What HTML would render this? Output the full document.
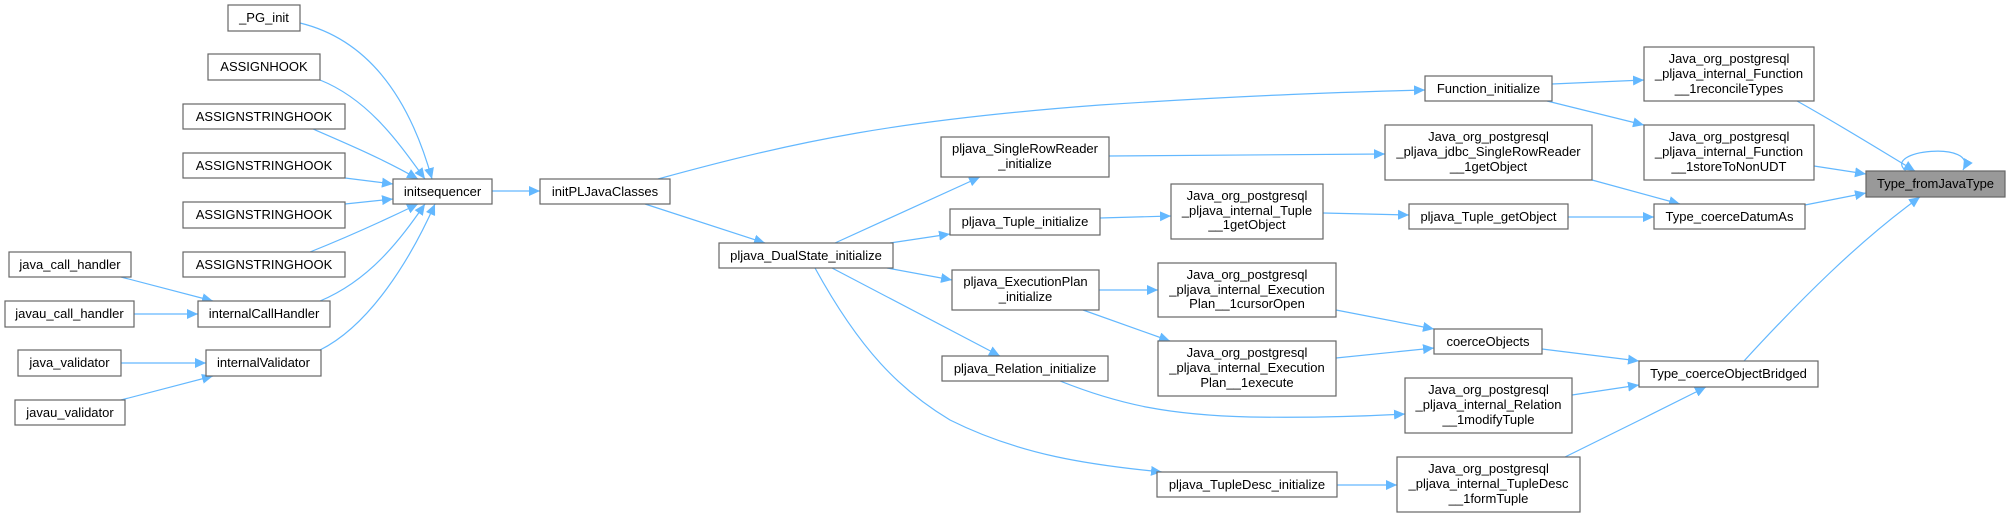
<!DOCTYPE html>
<html><head><meta charset="utf-8"><style>
html,body{margin:0;padding:0;background:#fff;}
svg{display:block;}
text{font-family:"Liberation Sans",Arial,sans-serif;font-size:13px;fill:#000;}
rect.n{fill:#fff;stroke:#666;stroke-width:1.2;}
path.e{fill:none;stroke:#63b8ff;stroke-width:1.2;}
</style></head><body>
<svg width="2011" height="517" viewBox="0 0 2011 517" xmlns="http://www.w3.org/2000/svg">
<defs>
<marker id="a" markerUnits="userSpaceOnUse" markerWidth="12" markerHeight="10" refX="11" refY="5" orient="auto">
<path d="M0,0 L11,5 L0,10 z" fill="#63b8ff"/>
</marker>
</defs>
<g>
<path class="e" marker-end="url(#a)" d="M300,23 C370,40 410,100 432,179"/>
<path class="e" marker-end="url(#a)" d="M320,80 C370,100 400,145 425,179"/>
<path class="e" marker-end="url(#a)" d="M313,129 C350,145 385,160 418,179"/>
<path class="e" marker-end="url(#a)" d="M345,178 L393,184"/>
<path class="e" marker-end="url(#a)" d="M345,204 L393,199"/>
<path class="e" marker-end="url(#a)" d="M310,252 C350,236 385,220 418,204"/>
<path class="e" marker-end="url(#a)" d="M320,301 C370,280 400,240 425,204"/>
<path class="e" marker-end="url(#a)" d="M320,350 C370,325 410,260 435,204"/>
<path class="e" marker-end="url(#a)" d="M121,277 L213,301"/>
<path class="e" marker-end="url(#a)" d="M134,314 L198,314"/>
<path class="e" marker-end="url(#a)" d="M121,363 L206,363"/>
<path class="e" marker-end="url(#a)" d="M121,400 L213,376"/>
<path class="e" marker-end="url(#a)" d="M492,191 L540,191"/>
<path class="e" marker-end="url(#a)" d="M658,179 C800,140 900,120 1100,105 C1250,95 1350,92 1425,90"/>
<path class="e" marker-end="url(#a)" d="M645,204 L765,243"/>
<path class="e" marker-end="url(#a)" d="M835,243 L980,177"/>
<path class="e" marker-end="url(#a)" d="M890,243 L950,234"/>
<path class="e" marker-end="url(#a)" d="M887,268 L952,280"/>
<path class="e" marker-end="url(#a)" d="M832,268 L1000,356"/>
<path class="e" marker-end="url(#a)" d="M815,268 C860,350 900,390 950,420 C1020,455 1090,465 1162,472"/>
<path class="e" marker-end="url(#a)" d="M1109,156 L1385,154"/>
<path class="e" marker-end="url(#a)" d="M1100,218 L1171,216"/>
<path class="e" marker-end="url(#a)" d="M1099,290 L1158,290"/>
<path class="e" marker-end="url(#a)" d="M1083,310 L1170,341"/>
<path class="e" marker-end="url(#a)" d="M1060,381 C1120,405 1170,415 1250,417 C1320,418 1370,416 1405,414"/>
<path class="e" marker-end="url(#a)" d="M1337,485 L1397,485"/>
<path class="e" marker-end="url(#a)" d="M1323,213 L1409,215"/>
<path class="e" marker-end="url(#a)" d="M1336,310 L1434,329"/>
<path class="e" marker-end="url(#a)" d="M1336,358 L1434,348"/>
<path class="e" marker-end="url(#a)" d="M1552,84 L1644,80"/>
<path class="e" marker-end="url(#a)" d="M1547,101 L1644,125"/>
<path class="e" marker-end="url(#a)" d="M1592,180 L1680,204"/>
<path class="e" marker-end="url(#a)" d="M1568,217 L1654,217"/>
<path class="e" marker-end="url(#a)" d="M1542,349 L1639,361"/>
<path class="e" marker-end="url(#a)" d="M1572,395 L1639,385"/>
<path class="e" marker-end="url(#a)" d="M1565,457 C1610,435 1660,410 1706,387"/>
<path class="e" marker-end="url(#a)" d="M1797,101 C1840,125 1880,150 1915,171"/>
<path class="e" marker-end="url(#a)" d="M1814,166 L1866,174"/>
<path class="e" marker-end="url(#a)" d="M1805,205 L1866,193"/>
<path class="e" marker-end="url(#a)" d="M1744,361 C1800,300 1860,240 1920,197"/>
<path class="e" marker-end="url(#a)" d="M1906,171 C1880,150 1980,140 1963,170"/>
</g>
<g>
<rect class="n" x="228" y="5" width="72" height="26"/><text x="264" y="22" text-anchor="middle">_PG_init</text>
<rect class="n" x="208" y="54" width="112" height="26"/><text x="264" y="71" text-anchor="middle">ASSIGNHOOK</text>
<rect class="n" x="183" y="104" width="162" height="25"/><text x="264" y="121" text-anchor="middle">ASSIGNSTRINGHOOK</text>
<rect class="n" x="183" y="153" width="162" height="25"/><text x="264" y="170" text-anchor="middle">ASSIGNSTRINGHOOK</text>
<rect class="n" x="183" y="202" width="162" height="26"/><text x="264" y="219" text-anchor="middle">ASSIGNSTRINGHOOK</text>
<rect class="n" x="183" y="252" width="162" height="25"/><text x="264" y="269" text-anchor="middle">ASSIGNSTRINGHOOK</text>
<rect class="n" x="9" y="252" width="122" height="25"/><text x="70" y="269" text-anchor="middle">java_call_handler</text>
<rect class="n" x="5" y="301" width="129" height="26"/><text x="69.5" y="318" text-anchor="middle">javau_call_handler</text>
<rect class="n" x="198" y="301" width="132" height="26"/><text x="264" y="318" text-anchor="middle">internalCallHandler</text>
<rect class="n" x="18" y="350" width="103" height="26"/><text x="69.5" y="367" text-anchor="middle">java_validator</text>
<rect class="n" x="206" y="350" width="115" height="26"/><text x="263.5" y="367" text-anchor="middle">internalValidator</text>
<rect class="n" x="15" y="400" width="110" height="25"/><text x="70" y="417" text-anchor="middle">javau_validator</text>
<rect class="n" x="393" y="179" width="99" height="25"/><text x="442.5" y="196" text-anchor="middle">initsequencer</text>
<rect class="n" x="540" y="179" width="130" height="25"/><text x="605" y="196" text-anchor="middle">initPLJavaClasses</text>
<rect class="n" x="719" y="243" width="174" height="25"/><text x="806" y="260" text-anchor="middle">pljava_DualState_initialize</text>
<rect class="n" x="941" y="137" width="168" height="40"/><text x="1025" y="153" text-anchor="middle">pljava_SingleRowReader</text><text x="1025" y="168" text-anchor="middle">_initialize</text>
<rect class="n" x="950" y="209" width="150" height="26"/><text x="1025" y="226" text-anchor="middle">pljava_Tuple_initialize</text>
<rect class="n" x="952" y="270" width="147" height="40"/><text x="1025.5" y="286" text-anchor="middle">pljava_ExecutionPlan</text><text x="1025.5" y="301" text-anchor="middle">_initialize</text>
<rect class="n" x="942" y="356" width="166" height="25"/><text x="1025" y="373" text-anchor="middle">pljava_Relation_initialize</text>
<rect class="n" x="1171" y="184" width="152" height="55"/><text x="1247" y="200" text-anchor="middle">Java_org_postgresql</text><text x="1247" y="215" text-anchor="middle">_pljava_internal_Tuple</text><text x="1247" y="229" text-anchor="middle">__1getObject</text>
<rect class="n" x="1158" y="263" width="178" height="54"/><text x="1247" y="279" text-anchor="middle">Java_org_postgresql</text><text x="1247" y="294" text-anchor="middle">_pljava_internal_Execution</text><text x="1247" y="308" text-anchor="middle">Plan__1cursorOpen</text>
<rect class="n" x="1158" y="341" width="178" height="55"/><text x="1247" y="357" text-anchor="middle">Java_org_postgresql</text><text x="1247" y="372" text-anchor="middle">_pljava_internal_Execution</text><text x="1247" y="387" text-anchor="middle">Plan__1execute</text>
<rect class="n" x="1157" y="472" width="180" height="25"/><text x="1247" y="489" text-anchor="middle">pljava_TupleDesc_initialize</text>
<rect class="n" x="1425" y="76" width="127" height="25"/><text x="1488.5" y="93" text-anchor="middle">Function_initialize</text>
<rect class="n" x="1644" y="47" width="170" height="54"/><text x="1729" y="63" text-anchor="middle">Java_org_postgresql</text><text x="1729" y="78" text-anchor="middle">_pljava_internal_Function</text><text x="1729" y="93" text-anchor="middle">__1reconcileTypes</text>
<rect class="n" x="1644" y="125" width="170" height="55"/><text x="1729" y="141" text-anchor="middle">Java_org_postgresql</text><text x="1729" y="156" text-anchor="middle">_pljava_internal_Function</text><text x="1729" y="171" text-anchor="middle">__1storeToNonUDT</text>
<rect class="n" x="1385" y="125" width="207" height="55"/><text x="1488.5" y="141" text-anchor="middle">Java_org_postgresql</text><text x="1488.5" y="156" text-anchor="middle">_pljava_jdbc_SingleRowReader</text><text x="1488.5" y="171" text-anchor="middle">__1getObject</text>
<rect class="n" x="1409" y="204" width="159" height="25"/><text x="1488.5" y="221" text-anchor="middle">pljava_Tuple_getObject</text>
<rect class="n" x="1654" y="204" width="151" height="25"/><text x="1729.5" y="221" text-anchor="middle">Type_coerceDatumAs</text>
<rect x="1866" y="171" width="139" height="26" fill="#999" stroke="#666" stroke-width="1.2"/><text x="1935.5" y="188" text-anchor="middle">Type_fromJavaType</text>
<rect class="n" x="1434" y="329" width="108" height="25"/><text x="1488" y="346" text-anchor="middle">coerceObjects</text>
<rect class="n" x="1639" y="361" width="179" height="26"/><text x="1728.5" y="378" text-anchor="middle">Type_coerceObjectBridged</text>
<rect class="n" x="1405" y="378" width="167" height="55"/><text x="1488.5" y="394" text-anchor="middle">Java_org_postgresql</text><text x="1488.5" y="409" text-anchor="middle">_pljava_internal_Relation</text><text x="1488.5" y="424" text-anchor="middle">__1modifyTuple</text>
<rect class="n" x="1397" y="457" width="183" height="55"/><text x="1488.5" y="473" text-anchor="middle">Java_org_postgresql</text><text x="1488.5" y="488" text-anchor="middle">_pljava_internal_TupleDesc</text><text x="1488.5" y="503" text-anchor="middle">__1formTuple</text>
</g>
</svg>
</body></html>
